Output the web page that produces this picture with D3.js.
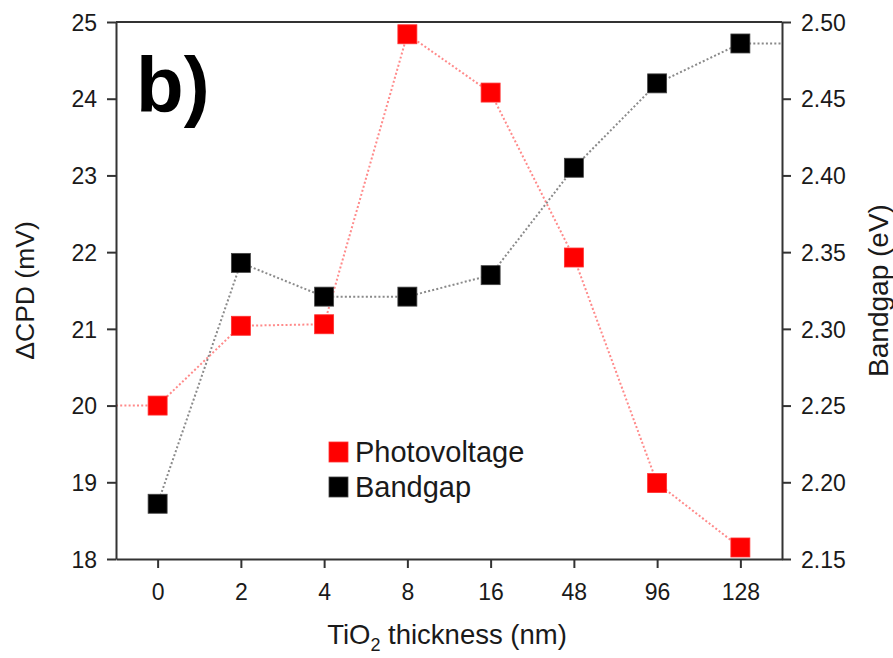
<!DOCTYPE html>
<html>
<head>
<meta charset="utf-8">
<script src="https://cdn.jsdelivr.net/npm/d3@7/dist/d3.min.js"></script>
<style>
  html, body { margin: 0; padding: 0; background: #fff; }
  svg { display: block; font-family: "Liberation Sans", Arial, sans-serif; }
</style>
</head>
<body>
<svg id="chart" width="893" height="658"></svg>
<script>
// TiO2 thickness categories (nm)
const thickness = ["0", "2", "4", "8", "16", "48", "96", "128"];
// Surface photovoltage, ΔCPD in mV (left axis)
const photovoltage = [20.0, 21.04, 21.06, 24.84, 24.08, 21.93, 18.99, 18.15];
// Optical bandgap in eV (right axis)
const bandgap = [2.186, 2.343, 2.321, 2.321, 2.335, 2.405, 2.460, 2.486];
// Axis ticks
const leftTicks = [18, 19, 20, 21, 22, 23, 24, 25];
const rightTicks = [2.15, 2.20, 2.25, 2.30, 2.35, 2.40, 2.45, 2.50];

const svg = d3.select("#chart");
const m = { left: 116, right: 782, top: 22, bottom: 559 };

// Categories sit at integer positions; half a slot of padding on each side
const x = d3.scaleLinear().domain([-0.5, thickness.length - 0.5]).range([m.left, m.right]);
const yL = d3.scaleLinear().domain([18, 25]).range([m.bottom, m.top]);
const yR = d3.scaleLinear().domain([2.15, 2.50]).range([m.bottom, m.top]);

const axisColor = "#333";
const textColor = "#1a1a1a";

// Connecting dotted lines
const line = (ys) => d3.line().x(d => x(d[0])).y(d => ys(d[1]));

// Photovoltage trace starts at the left frame edge
const pvPts = [[-0.5, photovoltage[0]]].concat(photovoltage.map((v, i) => [i, v]));
svg.append("path")
  .attr("d", line(yL)(pvPts))
  .attr("fill", "none")
  .attr("stroke", "#ff8a8a")
  .attr("stroke-width", 2)
  .attr("stroke-dasharray", "2,2.2");

// Bandgap trace runs on to the right frame edge
const bgPts = bandgap.map((v, i) => [i, v]).concat([[thickness.length - 0.5, bandgap[bandgap.length - 1]]]);
svg.append("path")
  .attr("d", line(yR)(bgPts))
  .attr("fill", "none")
  .attr("stroke", "#8a8a8a")
  .attr("stroke-width", 2)
  .attr("stroke-dasharray", "2,2.2");

// Square markers
const sq = 19;
svg.append("g").selectAll("rect").data(bandgap).join("rect")
  .attr("x", (d, i) => x(i) - sq / 2)
  .attr("y", d => yR(d) - sq / 2)
  .attr("width", sq).attr("height", sq)
  .attr("fill", "#000")
  .attr("stroke", "#444").attr("stroke-width", 0.8);

svg.append("g").selectAll("rect").data(photovoltage).join("rect")
  .attr("x", (d, i) => x(i) - sq / 2)
  .attr("y", d => yL(d) - sq / 2)
  .attr("width", sq).attr("height", sq)
  .attr("fill", "#ff0000")
  .attr("stroke", "#ff3030").attr("stroke-width", 0.8);

// Frame: top edge without ticks
svg.append("line")
  .attr("x1", m.left).attr("x2", m.right)
  .attr("y1", m.top).attr("y2", m.top)
  .attr("stroke", axisColor).attr("stroke-width", 2);

function styleAxis(g) {
  g.select(".domain").attr("stroke", axisColor).attr("stroke-width", 2);
  g.selectAll(".tick line").attr("stroke", axisColor).attr("stroke-width", 2);
  g.selectAll(".tick text")
    .attr("fill", textColor)
    .style("font-size", "23px")
    .style("font-family", "'Liberation Sans', Arial, sans-serif");
}

// Bottom axis
const gx = svg.append("g")
  .attr("transform", `translate(0,${m.bottom})`)
  .call(d3.axisBottom(x)
    .tickValues(d3.range(thickness.length))
    .tickFormat(i => thickness[i])
    .tickSize(9).tickSizeOuter(0).tickPadding(16));
styleAxis(gx);

// Left axis
const gl = svg.append("g")
  .attr("transform", `translate(${m.left},0)`)
  .call(d3.axisLeft(yL).tickValues(leftTicks).tickFormat(d3.format("d"))
    .tickSize(9).tickSizeOuter(0).tickPadding(10));
styleAxis(gl);
gl.selectAll(".tick text").attr("dy", "0.36em");

// Right axis
const gr = svg.append("g")
  .attr("transform", `translate(${m.right},0)`)
  .call(d3.axisRight(yR).tickValues(rightTicks).tickFormat(d3.format(".2f"))
    .tickSize(9).tickSizeOuter(0).tickPadding(10));
styleAxis(gr);
gr.selectAll(".tick text").attr("dy", "0.36em");

// Axis titles
svg.append("text")
  .attr("transform", `translate(34,${(m.top + m.bottom) / 2}) rotate(-90)`)
  .attr("text-anchor", "middle")
  .attr("fill", textColor)
  .style("font-size", "26.5px")
  .text("ΔCPD (mV)");

svg.append("text")
  .attr("transform", `translate(888,${(m.top + m.bottom) / 2}) rotate(-90)`)
  .attr("text-anchor", "middle")
  .attr("fill", textColor)
  .style("font-size", "28px")
  .text("Bandgap (eV)");

const xt = svg.append("text")
  .attr("x", (m.left + m.right) / 2 - 2)
  .attr("y", 644)
  .attr("text-anchor", "middle")
  .attr("fill", textColor)
  .style("font-size", "27.5px");
xt.append("tspan").text("TiO");
xt.append("tspan").text("2").style("font-size", "18px").attr("dy", 7);
xt.append("tspan").text(" thickness (nm)").attr("dy", -7);

// Panel letter
svg.append("text")
  .attr("x", 136).attr("y", 112)
  .attr("fill", "#000")
  .style("font-size", "78px")
  .style("font-weight", "bold")
  .text("b)");

// Legend
const legend = [
  { name: "Photovoltage", color: "#ff0000", stroke: "#ff3030" },
  { name: "Bandgap", color: "#000", stroke: "#444" }
];
const lg = svg.append("g").attr("transform", "translate(329,442)");
legend.forEach((d, i) => {
  lg.append("rect")
    .attr("x", 0).attr("y", i * 35)
    .attr("width", 19).attr("height", 20)
    .attr("fill", d.color).attr("stroke", d.stroke).attr("stroke-width", 0.8);
  lg.append("text")
    .attr("x", 26).attr("y", i * 35 + 20)
    .attr("fill", textColor)
    .style("font-size", "29px")
    .text(d.name);
});
</script>
</body>
</html>
